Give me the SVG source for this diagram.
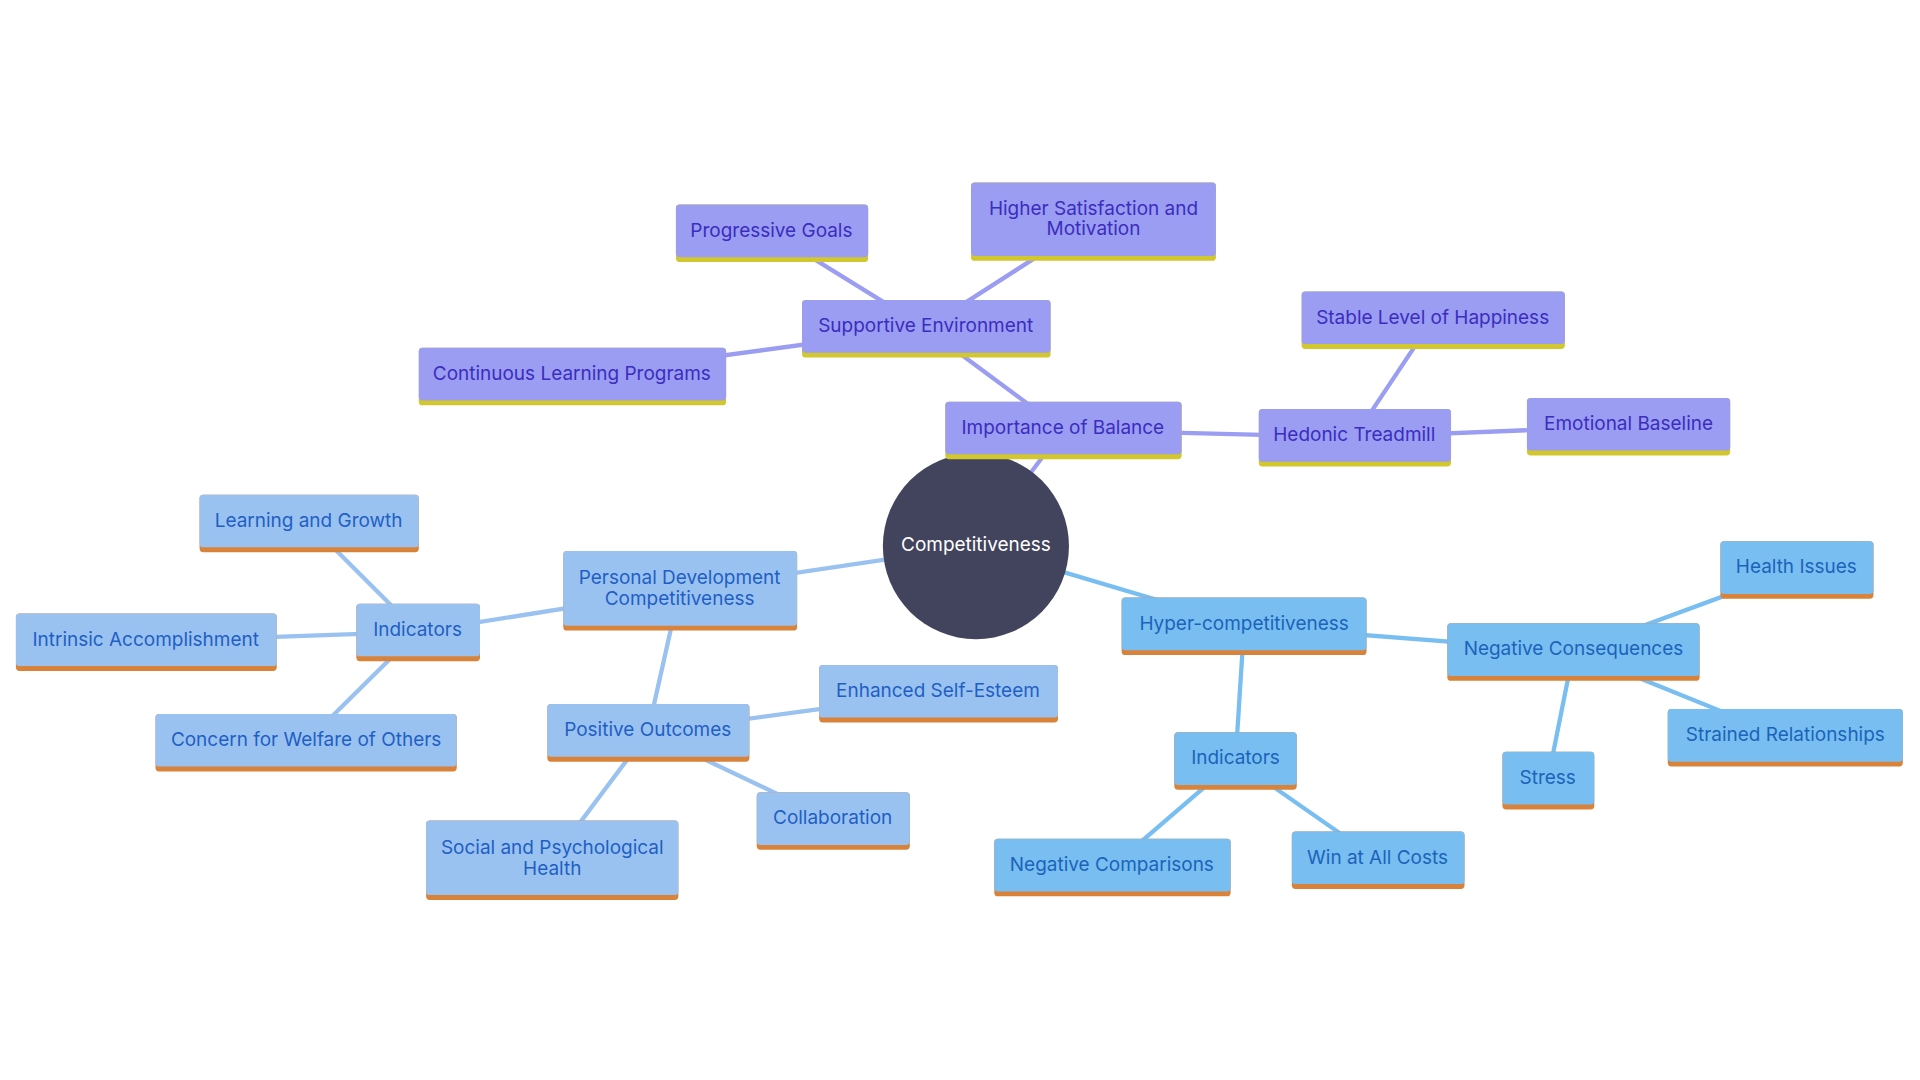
<svg xmlns="http://www.w3.org/2000/svg" width="1920" height="1080" viewBox="0 0 1920 1080">
<style>
text{font-family:Inter,"Noto Sans",sans-serif;font-size:15.5px;text-anchor:middle;dominant-baseline:central}
.p rect.b{fill:#9a9df1}.p rect.u{fill:#d2c72c}.p text{fill:#3b2dbf}
.l rect.b{fill:#9ac2f0}.l rect.u{fill:#d9823a}.l text{fill:#1f5fc4}
.s rect.b{fill:#79bef1}.s rect.u{fill:#d9823a}.s text{fill:#1a64ba}
#edges line{stroke-width:3.5;fill:none}
.ep{stroke:#9a9df1}.el{stroke:#9ac2f0}.es{stroke:#79bef1}
</style>
<rect width="1920" height="1080" fill="#ffffff"/>
<g transform="scale(1.22449)">
<g id="edges">
<line class="ep" x1="797" y1="446" x2="868" y2="351"/>
<line class="ep" x1="868" y1="351" x2="756" y2="268"/>
<line class="ep" x1="756" y1="268" x2="630" y2="190"/>
<line class="ep" x1="756" y1="268" x2="893" y2="180"/>
<line class="ep" x1="756" y1="268" x2="467" y2="307"/>
<line class="ep" x1="868" y1="351" x2="1106" y2="357"/>
<line class="ep" x1="1106" y1="357" x2="1170" y2="261"/>
<line class="ep" x1="1106" y1="357" x2="1330" y2="348"/>
<line class="el" x1="797" y1="446" x2="555" y2="482"/>
<line class="el" x1="555" y1="482" x2="341" y2="516"/>
<line class="el" x1="341" y1="516" x2="252" y2="427"/>
<line class="el" x1="341" y1="516" x2="119" y2="524"/>
<line class="el" x1="341" y1="516" x2="250" y2="606"/>
<line class="el" x1="555" y1="482" x2="529" y2="598"/>
<line class="el" x1="529" y1="598" x2="766" y2="566"/>
<line class="el" x1="529" y1="598" x2="680" y2="670"/>
<line class="el" x1="529" y1="598" x2="451" y2="702"/>
<line class="es" x1="797" y1="446" x2="1016" y2="511"/>
<line class="es" x1="1016" y1="511" x2="1285" y2="532"/>
<line class="es" x1="1285" y1="532" x2="1467" y2="465"/>
<line class="es" x1="1285" y1="532" x2="1458" y2="602"/>
<line class="es" x1="1285" y1="532" x2="1264" y2="637"/>
<line class="es" x1="1016" y1="511" x2="1009" y2="621"/>
<line class="es" x1="1009" y1="621" x2="908" y2="708"/>
<line class="es" x1="1009" y1="621" x2="1125" y2="702"/>
</g>
<g id="center"><circle cx="797" cy="446" r="76" fill="#41445c"/><text x="797" y="445" fill="#ffffff">Competitiveness</text></g>

<g id="n-balance" class="p"><rect class="u" x="772" y="328" width="193" height="47" rx="3"/><rect class="b" x="772" y="328" width="193" height="43" rx="3"/><text x="868" y="349">Importance of Balance</text></g>
<g id="n-supportive" class="p"><rect class="u" x="655" y="245" width="203" height="47" rx="3"/><rect class="b" x="655" y="245" width="203" height="43" rx="3"/><text x="756" y="266">Supportive Environment</text></g>
<g id="n-progressive" class="p"><rect class="u" x="552" y="167" width="157" height="47" rx="3"/><rect class="b" x="552" y="167" width="157" height="43" rx="3"/><text x="630" y="188">Progressive Goals</text></g>
<g id="n-higher" class="p"><rect class="u" x="793" y="149" width="200" height="64" rx="3"/><rect class="b" x="793" y="149" width="200" height="60" rx="3"/><text x="893" y="170">Higher Satisfaction and</text><text x="893" y="187">Motivation</text></g>
<g id="n-continuous" class="p"><rect class="u" x="342" y="284" width="251" height="47" rx="3"/><rect class="b" x="342" y="284" width="251" height="43" rx="3"/><text x="467" y="305">Continuous Learning Programs</text></g>
<g id="n-hedonic" class="p"><rect class="u" x="1028" y="334" width="157" height="47" rx="3"/><rect class="b" x="1028" y="334" width="157" height="43" rx="3"/><text x="1106" y="355">Hedonic Treadmill</text></g>
<g id="n-stable" class="p"><rect class="u" x="1063" y="238" width="215" height="47" rx="3"/><rect class="b" x="1063" y="238" width="215" height="43" rx="3"/><text x="1170" y="259">Stable Level of Happiness</text></g>
<g id="n-emotional" class="p"><rect class="u" x="1247" y="325" width="166" height="47" rx="3"/><rect class="b" x="1247" y="325" width="166" height="43" rx="3"/><text x="1330" y="346">Emotional Baseline</text></g>

<g id="n-personal" class="l"><rect class="u" x="460" y="450" width="191" height="65" rx="3"/><rect class="b" x="460" y="450" width="191" height="61" rx="3"/><text x="555" y="472">Personal Development</text><text x="555" y="489">Competitiveness</text></g>
<g id="n-indicators1" class="l"><rect class="u" x="291" y="493" width="101" height="47" rx="3"/><rect class="b" x="291" y="493" width="101" height="43" rx="3"/><text x="341" y="514">Indicators</text></g>
<g id="n-learning" class="l"><rect class="u" x="163" y="404" width="179" height="47" rx="3"/><rect class="b" x="163" y="404" width="179" height="43" rx="3"/><text x="252" y="425">Learning and Growth</text></g>
<g id="n-intrinsic" class="l"><rect class="u" x="13" y="501" width="213" height="47" rx="3"/><rect class="b" x="13" y="501" width="213" height="43" rx="3"/><text x="119" y="522">Intrinsic Accomplishment</text></g>
<g id="n-concern" class="l"><rect class="u" x="127" y="583" width="246" height="47" rx="3"/><rect class="b" x="127" y="583" width="246" height="43" rx="3"/><text x="250" y="604">Concern for Welfare of Others</text></g>
<g id="n-positive" class="l"><rect class="u" x="447" y="575" width="165" height="47" rx="3"/><rect class="b" x="447" y="575" width="165" height="43" rx="3"/><text x="529" y="596">Positive Outcomes</text></g>
<g id="n-esteem" class="l"><rect class="u" x="669" y="543" width="195" height="47" rx="3"/><rect class="b" x="669" y="543" width="195" height="43" rx="3"/><text x="766" y="564">Enhanced Self-Esteem</text></g>
<g id="n-collab" class="l"><rect class="u" x="618" y="647" width="125" height="47" rx="3"/><rect class="b" x="618" y="647" width="125" height="43" rx="3"/><text x="680" y="668">Collaboration</text></g>
<g id="n-social" class="l"><rect class="u" x="348" y="670" width="206" height="65" rx="3"/><rect class="b" x="348" y="670" width="206" height="61" rx="3"/><text x="451" y="692">Social and Psychological</text><text x="451" y="709">Health</text></g>

<g id="n-hyper" class="s"><rect class="u" x="916" y="488" width="200" height="47" rx="3"/><rect class="b" x="916" y="488" width="200" height="43" rx="3"/><text x="1016" y="509">Hyper-competitiveness</text></g>
<g id="n-negcons" class="s"><rect class="u" x="1182" y="509" width="206" height="47" rx="3"/><rect class="b" x="1182" y="509" width="206" height="43" rx="3"/><text x="1285" y="530">Negative Consequences</text></g>
<g id="n-health" class="s"><rect class="u" x="1405" y="442" width="125" height="47" rx="3"/><rect class="b" x="1405" y="442" width="125" height="43" rx="3"/><text x="1467" y="463">Health Issues</text></g>
<g id="n-strained" class="s"><rect class="u" x="1362" y="579" width="192" height="47" rx="3"/><rect class="b" x="1362" y="579" width="192" height="43" rx="3"/><text x="1458" y="600">Strained Relationships</text></g>
<g id="n-stress" class="s"><rect class="u" x="1227" y="614" width="75" height="47" rx="3"/><rect class="b" x="1227" y="614" width="75" height="43" rx="3"/><text x="1264" y="635">Stress</text></g>
<g id="n-indicators2" class="s"><rect class="u" x="959" y="598" width="100" height="47" rx="3"/><rect class="b" x="959" y="598" width="100" height="43" rx="3"/><text x="1009" y="619">Indicators</text></g>
<g id="n-negcomp" class="s"><rect class="u" x="812" y="685" width="193" height="47" rx="3"/><rect class="b" x="812" y="685" width="193" height="43" rx="3"/><text x="908" y="706">Negative Comparisons</text></g>
<g id="n-win" class="s"><rect class="u" x="1055" y="679" width="141" height="47" rx="3"/><rect class="b" x="1055" y="679" width="141" height="43" rx="3"/><text x="1125" y="700">Win at All Costs</text></g>
</g>
</svg>
